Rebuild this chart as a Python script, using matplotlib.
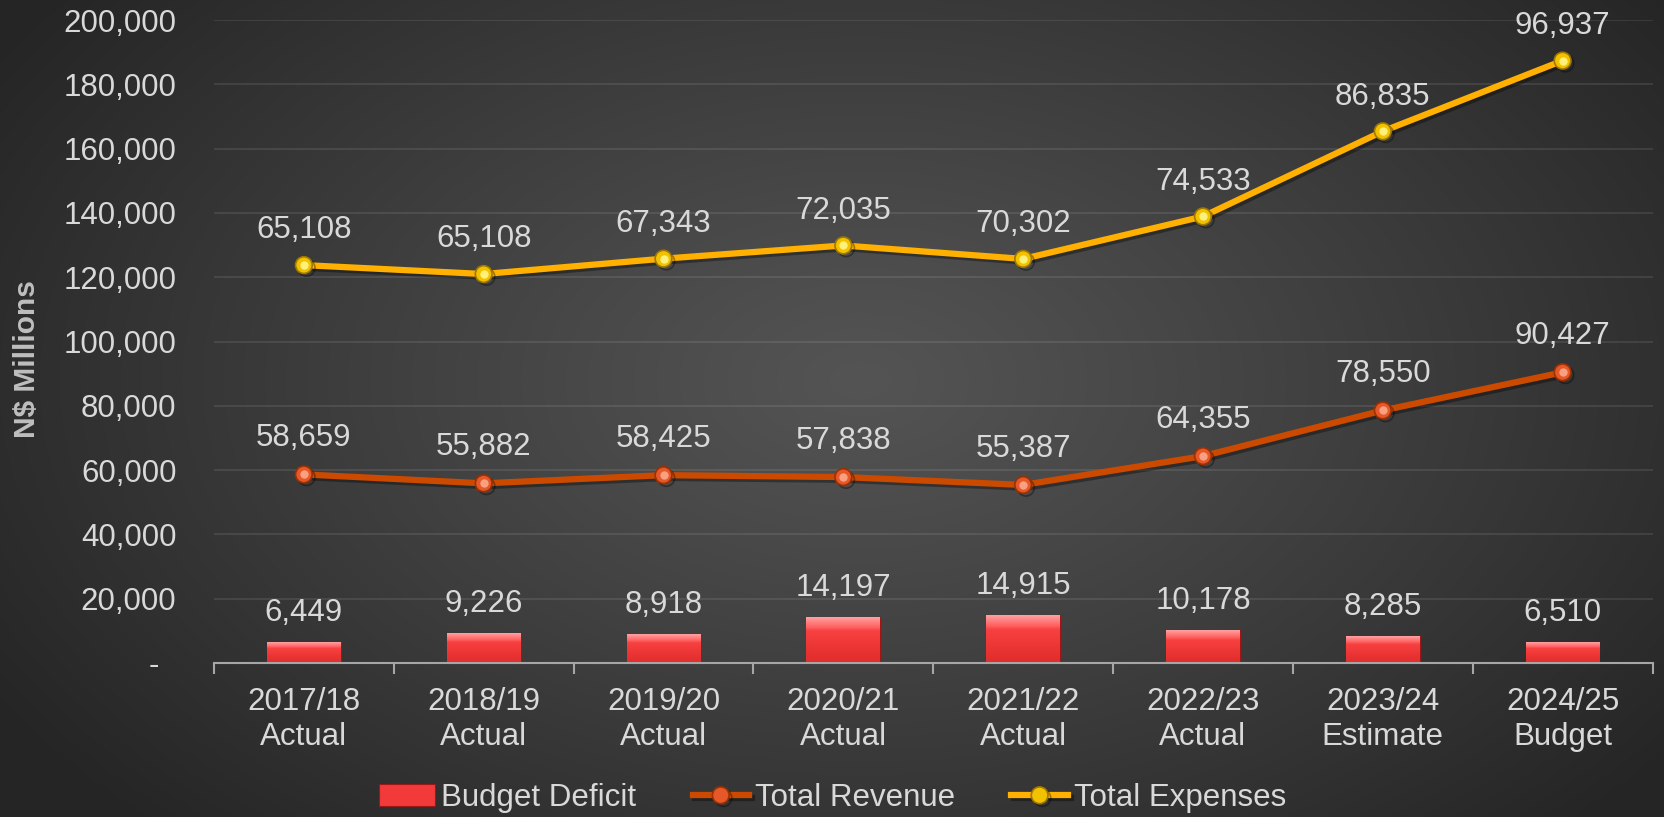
import numpy as np
import matplotlib
matplotlib.use("Agg")
import matplotlib.pyplot as plt
import matplotlib.patheffects as pe
from matplotlib.ticker import FuncFormatter, FixedLocator
from matplotlib.colors import LinearSegmentedColormap

years = ["2017/18", "2018/19", "2019/20", "2020/21", "2021/22", "2022/23", "2023/24", "2024/25"]
stages = ["Actual", "Actual", "Actual", "Actual", "Actual", "Actual", "Estimate", "Budget"]
deficit = [6449, 9226, 8918, 14197, 14915, 10178, 8285, 6510]
revenue = [58659, 55882, 58425, 57838, 55387, 64355, 78550, 90427]
expenses = [65108, 65108, 67343, 72035, 70302, 74533, 86835, 96937]

plt.rcParams["font.family"] = ["Liberation Sans", "DejaVu Sans"]
txt = "#d9d9d9"

fig = plt.figure(figsize=(16.65, 8.17), dpi=100)

# radial background
bg = fig.add_axes([0, 0, 1, 1], zorder=-10)
yy, xx = np.mgrid[0:817, 0:1665]
r = np.sqrt(((xx - 860) / 1000.0) ** 2 + ((yy - 380) / 620.0) ** 2)
r = np.clip(r, 0, 1)
c0, c1 = 0x54 / 255, 0x26 / 255
img = c0 + (c1 - c0) * r ** 1.1
bg.imshow(np.dstack([img, img, img]), aspect="auto", extent=[0, 1, 0, 1])
bg.axis("off")

ax = fig.add_axes([0.1285, 0.1885, 0.864, 0.787])
ax.patch.set_alpha(0)
x = np.arange(len(years))

# bars with vertical gradient
bars = ax.bar(x, deficit, width=0.41, color="#f23a3a", edgecolor="#9a1818",
              linewidth=0.8, zorder=3)
grad = np.linspace(0, 1, 100)[:, None]
bcmap = LinearSegmentedColormap.from_list(
    "b", [(0, "#ffa0a0"), (0.22, "#ff6060"), (0.3, "#f84040"), (1, "#e02c2c")])
for b in bars:
    im = ax.imshow(grad, cmap=bcmap, aspect="auto", zorder=3.5,
                   extent=[b.get_x(), b.get_x() + b.get_width(), 0, b.get_height()])
    im.set_clip_path(b)

shadow = [pe.SimpleLineShadow(offset=(2, -2), alpha=0.35), pe.Normal()]

# stacked line: expenses drawn on top of revenue
stacked = np.array(revenue) + np.array(expenses)
lr, = ax.plot(x, revenue, color="#cc4a00", lw=4.5, marker="o", ms=12,
              mfc="#e5582a", mec="#9c3000", mew=1.2, zorder=5,
              path_effects=shadow, label="Total Revenue")
ax.plot(x, revenue, ls="none", marker="o", ms=6, mfc="#f9a080", mec="none", zorder=6)
le, = ax.plot(x, stacked, color="#ffb000", lw=4.5, marker="o", ms=12,
              mfc="#f2c200", mec="#a07800", mew=1.2, zorder=5,
              path_effects=shadow, label="Total Expenses")
ax.plot(x, stacked, ls="none", marker="o", ms=6, mfc="#fff07a", mec="none", zorder=6)

fs = 22.5
for i in range(len(x)):
    ax.annotate(f"{deficit[i]:,}", (x[i], deficit[i]), xytext=(0, 21),
                textcoords="offset points", ha="center", va="center",
                fontsize=fs, color=txt, zorder=7)
    ax.annotate(f"{revenue[i]:,}", (x[i], revenue[i]), xytext=(0, 26),
                textcoords="offset points", ha="center", va="center",
                fontsize=fs, color=txt, zorder=7)
    ax.annotate(f"{expenses[i]:,}", (x[i], stacked[i]), xytext=(0, 25),
                textcoords="offset points", ha="center", va="center",
                fontsize=fs, color=txt, zorder=7, annotation_clip=False)

ax.set_xlim(-0.5, len(x) - 0.5)
ax.set_ylim(0, 200000)
ax.set_yticks(np.arange(0, 200001, 20000))
ax.yaxis.set_major_formatter(FuncFormatter(lambda v, p: "-  " if v == 0 else f"{int(v):,}"))
ax.set_xticks(x)
ax.set_xticklabels([f"{a}\n{b}" for a, b in zip(years, stages)], linespacing=1.22)
ax.xaxis.set_minor_locator(FixedLocator(np.arange(-0.5, len(x), 1)))
ax.tick_params(axis="x", which="major", length=0, pad=17, labelsize=fs, colors=txt)
ax.tick_params(axis="x", which="minor", length=8, width=1.5, color="#a6a6a6")
ax.tick_params(axis="y", length=0, pad=27, labelsize=fs, colors=txt)

ax.grid(axis="y", color="white", alpha=0.09, lw=1.5, zorder=0)
ax.set_axisbelow(True)
for s in ["left", "top", "right"]:
    ax.spines[s].set_visible(False)
ax.spines["bottom"].set_color("#a6a6a6")
ax.spines["bottom"].set_linewidth(1.5)
ax.spines["bottom"].set_zorder(4)

fig.text(0.0165, 0.56, "N$ Millions", rotation=90, ha="center", va="center",
         fontsize=fs - 1, fontweight="bold", color="#bfbfbf")

leg = fig.legend([bars, lr, le], ["Budget Deficit", "Total Revenue", "Total Expenses"],
                 loc="center", bbox_to_anchor=(0.5, 0.023), ncol=3, frameon=False,
                 fontsize=fs, handlelength=1.8, handletextpad=0.2, columnspacing=1.8,
                 labelcolor=txt)

fig.savefig("out.png", dpi=100)
